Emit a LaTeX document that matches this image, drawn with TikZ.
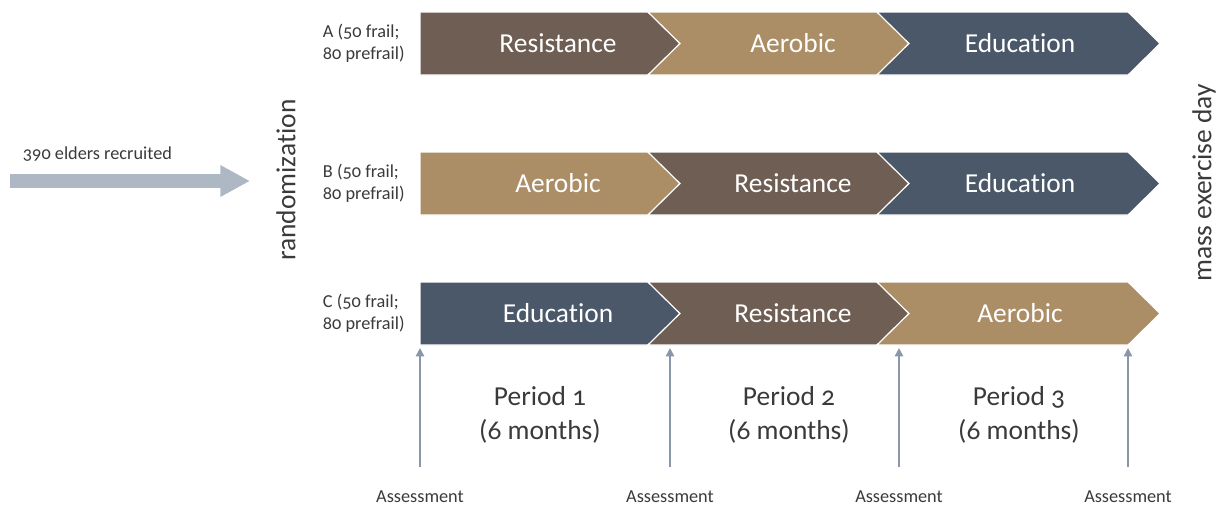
\documentclass[tikz,border=0pt]{standalone}
\usepackage{fontspec}
\setmainfont{Carlito}[Numbers=OldStyle, Ligatures=NoCommon]
\usetikzlibrary{arrows.meta}

\definecolor{resist}{HTML}{6F5E53}
\definecolor{aerob}{HTML}{AB8D66}
\definecolor{educ}{HTML}{4A5869}
\definecolor{assess}{HTML}{8A97A8}
\definecolor{recruit}{HTML}{AEB8C4}
\definecolor{txt}{HTML}{3A3A3A}

\tikzset{
  bigtext/.style={font=\fontsize{19.5}{24}\selectfont, text=txt},
  smalltext/.style={font=\fontsize{13}{15.6}\selectfont, text=txt},
  segtext/.style={font=\fontsize{19.5}{24}\selectfont, text=white},
  seg/.style={draw=white, line width=0.8pt},
  assessarrow/.style={assess, line width=1.1pt, -{Triangle[length=6pt,width=6pt]}}
}

\begin{document}
\begin{tikzpicture}[x=0.025cm, y=-0.025cm]

% canvas in pixel units
\useasboundingbox (0,0) rectangle (1220,506);

% recruitment arrow
\coordinate (rstart) at (10,181);
\coordinate (rend) at (250,181);
\draw[recruit, line width=10pt, -{Triangle[length=21pt,width=21pt]}] (rstart) -- (rend);
\node[smalltext, anchor=base west] (recruited) at (18,159) {390 elders recruited};

\node[bigtext, rotate=90] (rand) at (286,180) {randomization};
\node[bigtext, rotate=90] (massday) at (1204,183) {mass exercise day};

\foreach \t/\grp/\ca/\ta/\cb/\tb/\cc/\tc in {
    12/A/resist/Resistance/aerob/Aerobic/educ/Education,
    152/B/aerob/Aerobic/resist/Resistance/educ/Education,
    282/C/educ/Education/resist/Resistance/aerob/Aerobic} {   % rows
    % three chevrons per row
    \fill[\ca, seg] (420,\t) -- (648,\t) -- (680,\t+31.5) -- (648,\t+63) -- (420,\t+63) -- cycle;
    \fill[\cb, seg] (648,\t) -- (877,\t) -- (909,\t+31.5) -- (877,\t+63) -- (648,\t+63) -- (680,\t+31.5) -- cycle;
    \fill[\cc, seg] (877,\t) -- (1128,\t) -- (1160,\t+31.5) -- (1128,\t+63) -- (877,\t+63) -- (909,\t+31.5) -- cycle;
    \node[segtext] (\grp-1) at (558,\t+31.5) {\ta};
    \node[segtext] (\grp-2) at (793,\t+31.5) {\tb};
    \node[segtext] (\grp-3) at (1020,\t+31.5) {\tc};
    \node[smalltext, anchor=west, align=left] (\grp-lbl) at (318,\t+31.5) {\grp{} (50 frail;\\80 prefrail)};
}

% assessment points
\foreach \x [count=\i] in {420,670,899,1128} {
    \coordinate (as\i-bot) at (\x,467);
    \coordinate (as\i-top) at (\x,348);
    \draw[assessarrow] (as\i-bot) -- (as\i-top);
    \node[smalltext] (as\i) at (\x,497) {Assessment};
}

% periods
\foreach \x/\p in {540/1,789/2,1019/3}
    \node[bigtext, align=center] (per\p) at (\x,415) {Period \p\\(6 months)};

\end{tikzpicture}
\end{document}
